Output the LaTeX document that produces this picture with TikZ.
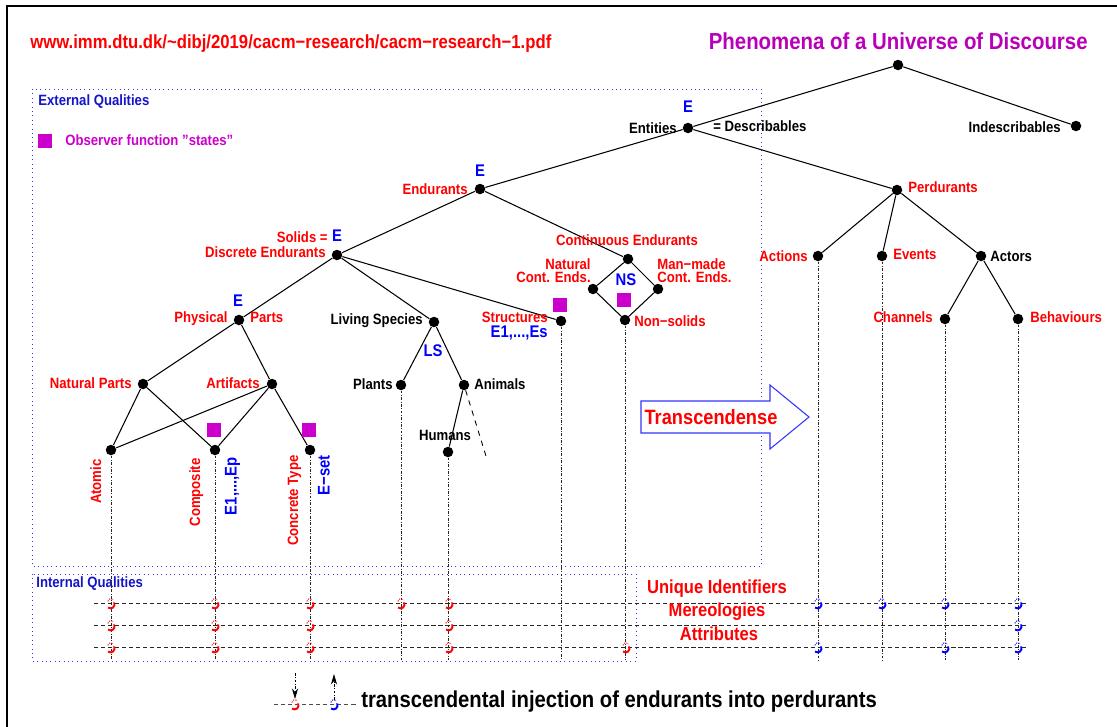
\documentclass[tikz,border=0pt]{standalone}
\usepackage{fontspec}
\setmainfont[FakeStretch=0.88]{Liberation Sans}
\usetikzlibrary{arrows.meta}
\definecolor{obsmag}{RGB}{204,0,204}
\definecolor{titlemag}{RGB}{185,0,185}
\definecolor{qualblue}{RGB}{20,20,200}
\newcommand{\lblfont}{\fontsize{8.5}{9.4}\selectfont\bfseries}
\newcommand{\efont}{\fontsize{9.6}{10.5}\selectfont\bfseries}
\tikzset{
  dot/.style={circle, fill=black, inner sep=0pt, minimum size=0.21cm},
  lbl/.style={font=\lblfont, inner sep=0pt, text height=6.3pt, text depth=1.5pt},
  rlbl/.style={lbl, text=red},
  elbl/.style={font=\efont, text=blue, inner sep=0pt, text height=7pt, text depth=1.8pt},
  tree/.style={line width=0.6pt},
  drop/.style={line width=0.5pt, black!85, dash pattern=on 1.6pt off 0.9pt on 0.4pt off 0.9pt},
  row/.style={line width=0.5pt, black!85, dash pattern=on 2.4pt off 1.6pt},
  qbox/.style={blue!80, line width=0.5pt, dotted},
  obs/.style={fill=obsmag, inner sep=0pt, minimum size=0.29cm},
  qlbl/.style={font=\fontsize{10.7}{11.5}\selectfont\bfseries, text=red, inner sep=0pt},
  inj/.pic={
    \draw[line width=1.1pt] (3.2,-0.6) .. controls (4.6,4.4) and (0.6,6.6) .. (-3,4.6);
    \draw[line width=0.5pt, dash pattern=on 0.7pt off 0.7pt] (-3.2,-1.6) .. controls (-2,-5) and (1.4,-5.2) .. (2.6,-3);
  }
}
\begin{document}
\begin{tikzpicture}[x=0.02cm, y=-0.02cm]
\useasboundingbox (0,0) rectangle (1117,727);

% page frame
\draw[line width=0.9pt] (7,727) -- (7,6) -- (1117,6);

% headings
\node[font=\fontsize{10.8}{12}\selectfont\bfseries, text=red, anchor=west, inner sep=0pt] (url) at (30,44) {www.imm.dtu.dk/\textasciitilde dibj/2019/cacm−research/cacm−research−1.pdf};
\node[font=\fontsize{13.2}{14.5}\selectfont\bfseries, text=titlemag, anchor=east, inner sep=0pt] (title) at (1088,41) {Phenomena of a Universe of Discourse};

% quality regions
\draw[qbox] (32,89) rectangle (761,566);
\draw[qbox] (32,574) rectangle (636,661);
\node[lbl, text=qualblue, anchor=west] (extq) at (38,101) {External Qualities};
\node[lbl, text=qualblue, anchor=west] (intq) at (36,583) {Internal Qualities};
\node[obs] (obskey) at (45,141) {};
\node[lbl, text=obsmag, anchor=west] (obstxt) at (65,141) {Observer function "states"};

% tree nodes
\node[dot] (root) at (898,65) {};
\node[dot] (indesc) at (1076,126) {};
\node[dot] (ent) at (688,128) {};
\node[dot] (endu) at (480,189) {};
\node[dot] (perd) at (897,190) {};
\node[dot] (solid) at (337,255) {};
\node[dot] (cont) at (628,259) {};
\node[dot] (natc) at (593,289) {};
\node[dot] (manc) at (658,289) {};
\node[dot] (nons) at (625,320) {};
\node[dot] (struc) at (561,321) {};
\node[dot] (phys) at (239,320) {};
\node[dot] (living) at (434,322) {};
\node[dot] (plants) at (401,385) {};
\node[dot] (animals) at (464,385) {};
\node[dot] (humans) at (448,452) {};
\node[dot] (natp) at (143,384) {};
\node[dot] (artif) at (272,384) {};
\node[dot] (atomic) at (111,450) {};
\node[dot] (compos) at (215,450) {};
\node[dot] (concr) at (310,450) {};
\node[dot] (actions) at (818,256) {};
\node[dot] (events) at (882,256) {};
\node[dot] (actors) at (981,256) {};
\node[dot] (channels) at (945,319) {};
\node[dot] (behav) at (1018,319) {};
\coordinate (moreanimals) at (486,456);

% tree edges
\draw[tree] (root) -- (ent);
\draw[tree] (root) -- (indesc);
\draw[tree] (ent) -- (endu);
\draw[tree] (ent) -- (perd);
\draw[tree] (endu) -- (solid);
\draw[tree] (endu) -- (cont);
\draw[tree] (solid) -- (phys);
\draw[tree] (solid) -- (living);
\draw[tree] (solid) -- (struc);
\draw[tree] (cont) -- (natc);
\draw[tree] (cont) -- (manc);
\draw[tree] (natc) -- (nons);
\draw[tree] (manc) -- (nons);
\draw[tree] (phys) -- (natp);
\draw[tree] (phys) -- (artif);
\draw[tree] (natp) -- (atomic);
\draw[tree] (natp) -- (compos);
\draw[tree] (artif) -- (atomic);
\draw[tree] (artif) -- (compos);
\draw[tree] (artif) -- (concr);
\draw[tree] (living) -- (plants);
\draw[tree] (living) -- (animals);
\draw[tree] (animals) -- (humans);
\draw[line width=0.5pt, dashed] (animals) -- (moreanimals);
\draw[tree] (perd) -- (actions);
\draw[tree] (perd) -- (events);
\draw[tree] (perd) -- (actors);
\draw[tree] (actors) -- (channels);
\draw[tree] (actors) -- (behav);

% labels
\node[lbl, anchor=east] (entL) at (677,129) {Entities};
\node[elbl] (entE) at (688,108) {E};
\node[lbl, anchor=west] (describ) at (713,127) {= Describables};
\node[lbl, anchor=east] (indescL) at (1061,128) {Indescribables};
\node[rlbl, anchor=east] (enduL) at (468,190) {Endurants};
\node[elbl] (enduE) at (480,172) {E};
\node[rlbl, anchor=west] (perdL) at (908,188) {Perdurants};
\node[rlbl, anchor=east] (solidL) at (328,238) {Solids =};
\node[elbl] (solidE) at (337,237) {E};
\node[rlbl, anchor=east] (discL) at (326,253) {Discrete Endurants};
\node[rlbl] (contL) at (627,241) {Continuous Endurants};
\node[rlbl, anchor=east, align=right, text height=, text depth=] (natcL) at (591,271) {Natural\\[-2pt]Cont. Ends.};
\node[rlbl, anchor=west, align=left, text height=, text depth=] (mancL) at (657,271) {Man−made\\[-2pt]Cont. Ends.};
\node[elbl] (nsL) at (626,281) {NS};
\node[obs] (nsObs) at (624,300) {};
\node[rlbl, anchor=west] (nonsL) at (634,322) {Non−solids};
\node[rlbl, anchor=east] (strucL) at (548,318) {Structures};
\node[elbl, anchor=east] (strucE) at (548,333) {E1,...,Es};
\node[obs] (strucObs) at (560,305) {};
\node[rlbl, anchor=east] (physL) at (228,318) {Physical};
\node[rlbl, anchor=west] (partsL) at (250,318) {Parts};
\node[elbl] (physE) at (238,302) {E};
\node[lbl, anchor=east] (livingL) at (423,320) {Living Species};
\node[elbl] (lsL) at (433,352) {LS};
\node[lbl, anchor=east] (plantsL) at (393,385) {Plants};
\node[lbl, anchor=west] (animalsL) at (474,385) {Animals};
\node[lbl] (humansL) at (445,436) {Humans};
\node[rlbl, anchor=east] (natpL) at (132,384) {Natural Parts};
\node[rlbl, anchor=east] (artifL) at (260,384) {Artifacts};
\node[rlbl, rotate=90, anchor=east] (atomicL) at (97,459) {Atomic};
\node[rlbl, rotate=90, anchor=east] (composL) at (196,458) {Composite};
\node[elbl, rotate=90, anchor=east] (composE) at (232,457) {E1,...,Ep};
\node[obs] (composObs) at (214,430) {};
\node[rlbl, rotate=90, anchor=east] (concrL) at (294,455) {Concrete Type};
\node[elbl, rotate=90, anchor=east] (concrE) at (325,455) {E−set};
\node[obs] (concrObs) at (309,430) {};
\node[rlbl, anchor=east] (actionsL) at (808,257) {Actions};
\node[rlbl, anchor=west] (eventsL) at (893,255) {Events};
\node[lbl, anchor=west] (actorsL) at (990,257) {Actors};
\node[rlbl, anchor=east] (channelsL) at (933,318) {Channels};
\node[rlbl, anchor=west] (behavL) at (1030,318) {Behaviours};

% transcendence arrow
\draw[blue!80, line width=0.6pt, fill=white] (641,401) -- (770,401) -- (770,385) -- (809,417) -- (770,449) -- (770,433) -- (641,433) -- cycle;
\node[font=\fontsize{11.8}{13}\selectfont\bfseries, text=red, inner sep=0pt] (transL) at (711,417) {Transcendense};

% drop lines from the leaves
\foreach \n/\x in {atomic/111, compos/215, concr/310, plants/401, humans/448, struc/561, nons/625, actions/818, events/882, channels/945, behav/1018} {
  \coordinate (\n-end) at (\x,660);
  \draw[drop] (\n) -- (\n-end);
}

% internal quality rows
\foreach \r/\y in {uid/603, mereo/625, attr/647} {
  \coordinate (\r-a) at (94,\y);
  \coordinate (\r-b) at (1028,\y);
  \draw[row] (\r-a) -- (\r-b);
}
\node[qlbl] (uidL) at (717,589) {Unique Identifiers};
\node[qlbl] (mereoL) at (717,612) {Mereologies};
\node[qlbl] (attrL) at (719,634) {Attributes};

% injection marks
\foreach \x in {111,215,310,401,449} { \pic[red] at (\x,603) {inj}; }
\foreach \x in {111,215,310,449} { \pic[red] at (\x,625) {inj}; }
\foreach \x in {111,215,310,449,626} { \pic[red] at (\x,647) {inj}; }
\foreach \x in {818,882,945,1018} { \pic[blue] at (\x,603) {inj}; }
\foreach \x in {1018} { \pic[blue] at (\x,625) {inj}; }
\foreach \x in {818,945,1018} { \pic[blue] at (\x,647) {inj}; }

% key for the injection marks
\coordinate (keyA) at (274,704);
\coordinate (keyB) at (357,704);
\draw[row, black!70] (keyA) -- (keyB);
\pic[red] at (295,704) {inj};
\pic[blue] at (334,704) {inj};
\coordinate (downS) at (295,673);
\coordinate (downE) at (295,699);
\coordinate (upS) at (334,700);
\coordinate (upE) at (334,674);
\draw[drop, black, -{Stealth[length=6pt,width=3.5pt]}] (downS) -- (downE);
\draw[drop, black, -{Stealth[length=6pt,width=3.5pt]}] (upS) -- (upE);
\node[font=\fontsize{13.1}{14.5}\selectfont\bfseries, anchor=west, inner sep=0pt] (keyL) at (361,702) {transcendental injection of endurants into perdurants};
\end{tikzpicture}
\end{document}
